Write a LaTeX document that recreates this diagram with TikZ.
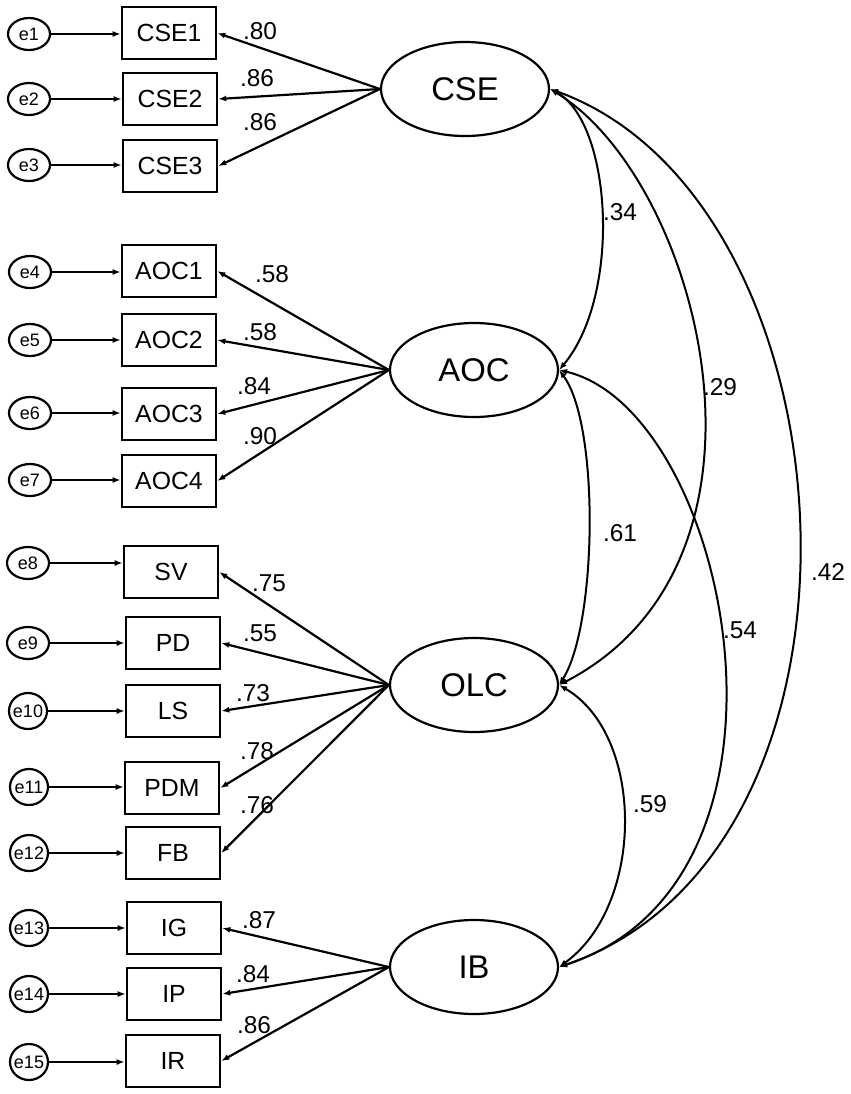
\documentclass[tikz,border=0pt]{standalone}
\usepackage{fontspec}
\setmainfont{Liberation Sans}
\usetikzlibrary{arrows.meta,shapes.geometric}
\begin{document}
\begin{tikzpicture}[
x=0.5pt, y=-0.5pt,
>={Latex[length=4pt,width=3pt]},
err/.style={draw,ellipse,line width=1.1pt,minimum width=21pt,minimum height=16pt,inner sep=0pt,font=\fontsize{9}{10}\selectfont},
errc/.style={err,minimum width=19pt,minimum height=18pt,inner sep=-1.5pt},
ind/.style={draw,rectangle,line width=1.3pt,minimum width=47pt,minimum height=26pt,inner sep=0pt,font=\fontsize{12.4}{14}\selectfont},
lat/.style={draw,ellipse,line width=1.1pt,minimum width=84pt,minimum height=47pt,inner sep=0pt,font=\fontsize{16.4}{19}\selectfont},
coef/.style={inner sep=0pt,font=\fontsize{12.2}{14}\selectfont},
errarr/.style={->,line width=1.1pt},
loadarr/.style={->,line width=1.1pt},
covarr/.style={<->,line width=1pt}]
\useasboundingbox (0,0) rectangle (851,1094);

\node[lat] (CSE) at (465,89) {CSE};
\node[lat] (AOC) at (474,370) {AOC};
\node[lat] (OLC) at (474,685) {OLC};
\node[lat] (IB) at (474,967) {IB};

\node[ind] (CSE1) at (169,33) {CSE1};
\node[ind] (CSE2) at (170,99) {CSE2};
\node[ind] (CSE3) at (170,166) {CSE3};
\node[ind] (AOC1) at (169,271) {AOC1};
\node[ind] (AOC2) at (169,340) {AOC2};
\node[ind] (AOC3) at (169,414) {AOC3};
\node[ind] (AOC4) at (169,481) {AOC4};
\node[ind] (SV) at (171,572) {SV};
\node[ind] (PD) at (173,643) {PD};
\node[ind] (LS) at (173,711) {LS};
\node[ind] (PDM) at (172,788) {PDM};
\node[ind] (FB) at (173,853) {FB};
\node[ind] (IG) at (174,928) {IG};
\node[ind] (IP) at (174,994) {IP};
\node[ind] (IR) at (173,1061) {IR};

\node[err] (e1) at (29,34) {e1};
\node[err] (e2) at (29,99) {e2};
\node[err] (e3) at (29,165) {e3};
\node[err] (e4) at (30,272) {e4};
\node[err] (e5) at (30,340) {e5};
\node[err] (e6) at (30,413) {e6};
\node[err] (e7) at (30,480) {e7};
\node[err] (e8) at (28,563) {e8};
\node[err] (e9) at (28,643) {e9};
\node[errc] (e10) at (28,711) {e10};
\node[errc] (e11) at (29,787) {e11};
\node[errc] (e12) at (29,853) {e12};
\node[errc] (e13) at (29,928) {e13};
\node[errc] (e14) at (29,994) {e14};
\node[errc] (e15) at (29,1062) {e15};

\draw[errarr] (e1.east) -- (e1 -| CSE1.west);
\draw[errarr] (e2.east) -- (e2 -| CSE2.west);
\draw[errarr] (e3.east) -- (e3 -| CSE3.west);
\draw[errarr] (e4.east) -- (e4 -| AOC1.west);
\draw[errarr] (e5.east) -- (e5 -| AOC2.west);
\draw[errarr] (e6.east) -- (e6 -| AOC3.west);
\draw[errarr] (e7.east) -- (e7 -| AOC4.west);
\draw[errarr] (e8.east) -- (e8 -| SV.west);
\draw[errarr] (e9.east) -- (e9 -| PD.west);
\draw[errarr] (e10.east) -- (e10 -| LS.west);
\draw[errarr] (e11.east) -- (e11 -| PDM.west);
\draw[errarr] (e12.east) -- (e12 -| FB.west);
\draw[errarr] (e13.east) -- (e13 -| IG.west);
\draw[errarr] (e14.east) -- (e14 -| IP.west);
\draw[errarr] (e15.east) -- (e15 -| IR.west);

\draw[loadarr] (CSE.west) -- (CSE1.east);
\draw[loadarr] (CSE.west) -- (CSE2.east);
\draw[loadarr] (CSE.west) -- (CSE3.east);
\draw[loadarr] (AOC.west) -- (AOC1.east);
\draw[loadarr] (AOC.west) -- (AOC2.east);
\draw[loadarr] (AOC.west) -- (AOC3.east);
\draw[loadarr] (AOC.west) -- (AOC4.east);
\draw[loadarr] (OLC.west) -- (SV.east);
\draw[loadarr] (OLC.west) -- (PD.east);
\draw[loadarr] (OLC.west) -- (LS.east);
\draw[loadarr] (OLC.west) -- (PDM.east);
\draw[loadarr] (OLC.west) -- (FB.east);
\draw[loadarr] (IB.west) -- (IG.east);
\draw[loadarr] (IB.west) -- (IP.east);
\draw[loadarr] (IB.west) -- (IR.east);

\node[coef] (wcse1) at (260,31) {.80};
\node[coef] (wcse2) at (257,78) {.86};
\node[coef] (wcse3) at (260,122) {.86};
\node[coef] (waoc1) at (272,274) {.58};
\node[coef] (waoc2) at (260,332) {.58};
\node[coef] (waoc3) at (254,386) {.84};
\node[coef] (waoc4) at (260,436) {.90};
\node[coef] (wsv) at (269,583) {.75};
\node[coef] (wpd) at (260,633) {.55};
\node[coef] (wls) at (253,693) {.73};
\node[coef] (wpdm) at (257,751) {.78};
\node[coef] (wfb) at (257,805) {.76};
\node[coef] (wig) at (259,920) {.87};
\node[coef] (wip) at (253,974) {.84};
\node[coef] (wir) at (254,1025) {.86};

\draw[covarr] (CSE.east) .. controls (612,122) and (622,295) .. (AOC.east);
\draw[covarr] (CSE.east) .. controls (700,180) and (800,560) .. (OLC.east);
\draw[covarr] (CSE.east) .. controls (860,200) and (900,850) .. (IB.east);
\draw[covarr] (AOC.east) .. controls (600,425) and (597,625) .. (OLC.east);
\draw[covarr] (AOC.east) .. controls (730,410) and (825,880) .. (IB.east);
\draw[covarr] (OLC.east) .. controls (645,735) and (645,905) .. (IB.east);

\node[coef] (rcseaoc) at (620,212) {.34};
\node[coef] (rcseolc) at (720,387) {.29};
\node[coef] (rcseib) at (828,572) {.42};
\node[coef] (raocolc) at (620,533) {.61};
\node[coef] (raocib) at (740,630) {.54};
\node[coef] (rolcib) at (650,804) {.59};
\end{tikzpicture}
\end{document}
